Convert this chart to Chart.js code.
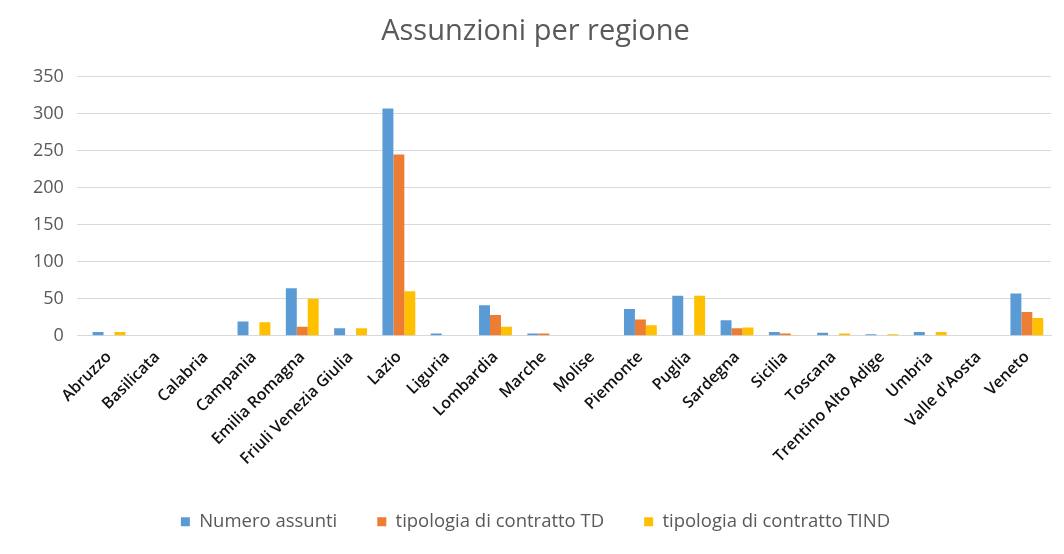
<!DOCTYPE html>
<html><head><meta charset="utf-8">
<script src="https://cdn.jsdelivr.net/npm/chart.js@4"></script>
<style>html,body{margin:0;padding:0;background:#fff}#w{width:1064px;height:554px}</style>
</head><body><div id="w"><canvas id="c" width="1064" height="554"></canvas></div>
<script>
const categories = ["Abruzzo","Basilicata","Calabria","Campania","Emilia Romagna","Friuli Venezia Giulia","Lazio","Liguria","Lombardia","Marche","Molise","Piemonte","Puglia","Sardegna","Sicilia","Toscana","Trentino Alto Adige","Umbria","Valle d'Aosta","Veneto"];
const numeroAssunti = [5,0,0,19,64,10,307,3,41,3,0,36,54,21,5,4,2,5,0,57];
const contrattoTD = [0,0,0,0,12,0,245,0,28,3,0,22,0,10,3,0,0,0,0,32];
const contrattoTIND = [5,0,0,18,50,10,60,0,12,0,0,14,54,11,1,3,2,5,0,24];
const yTicks = [0,50,100,150,200,250,300,350];

new Chart(document.getElementById('c'), {
  type: 'bar',
  data: {
    labels: categories,
    datasets: [
      {label:'Numero assunti', data:numeroAssunti, backgroundColor:'#5B9BD5'},
      {label:'tipologia di contratto TD', data:contrattoTD, backgroundColor:'#ED7D31'},
      {label:'tipologia di contratto TIND', data:contrattoTIND, backgroundColor:'#FFC000'}
    ]
  },
  options: {
    responsive:false, animation:false,
    layout:{padding:{left:20,right:13,top:10,bottom:13}},
    datasets:{bar:{barPercentage:1,categoryPercentage:0.68}},
    plugins:{
      title:{display:true,text:'Assunzioni per regione',color:'#595959',font:{family:'Open Sans',size:29,weight:'normal'},padding:{top:4,bottom:28}},
      legend:{position:'bottom',labels:{boxWidth:9,boxHeight:9,color:'#595959',font:{family:'Open Sans',size:18.5},padding:40}},
      tooltip:{enabled:false}
    },
    scales:{
      x:{grid:{display:false},border:{color:'#d9d9d9'},
         ticks:{color:'#111',padding:4,minRotation:45,maxRotation:45,autoSkip:false,font:{family:'Open Sans',size:16,weight:'600'}}},
      y:{min:0,max:350,afterBuildTicks:(a)=>{a.ticks=yTicks.map(v=>({value:v}));},
         grid:{color:'#d9d9d9'},border:{display:false},
         ticks:{color:'#595959',font:{family:'Open Sans',size:18},padding:13}}
    }
  }
});
</script></body></html>
